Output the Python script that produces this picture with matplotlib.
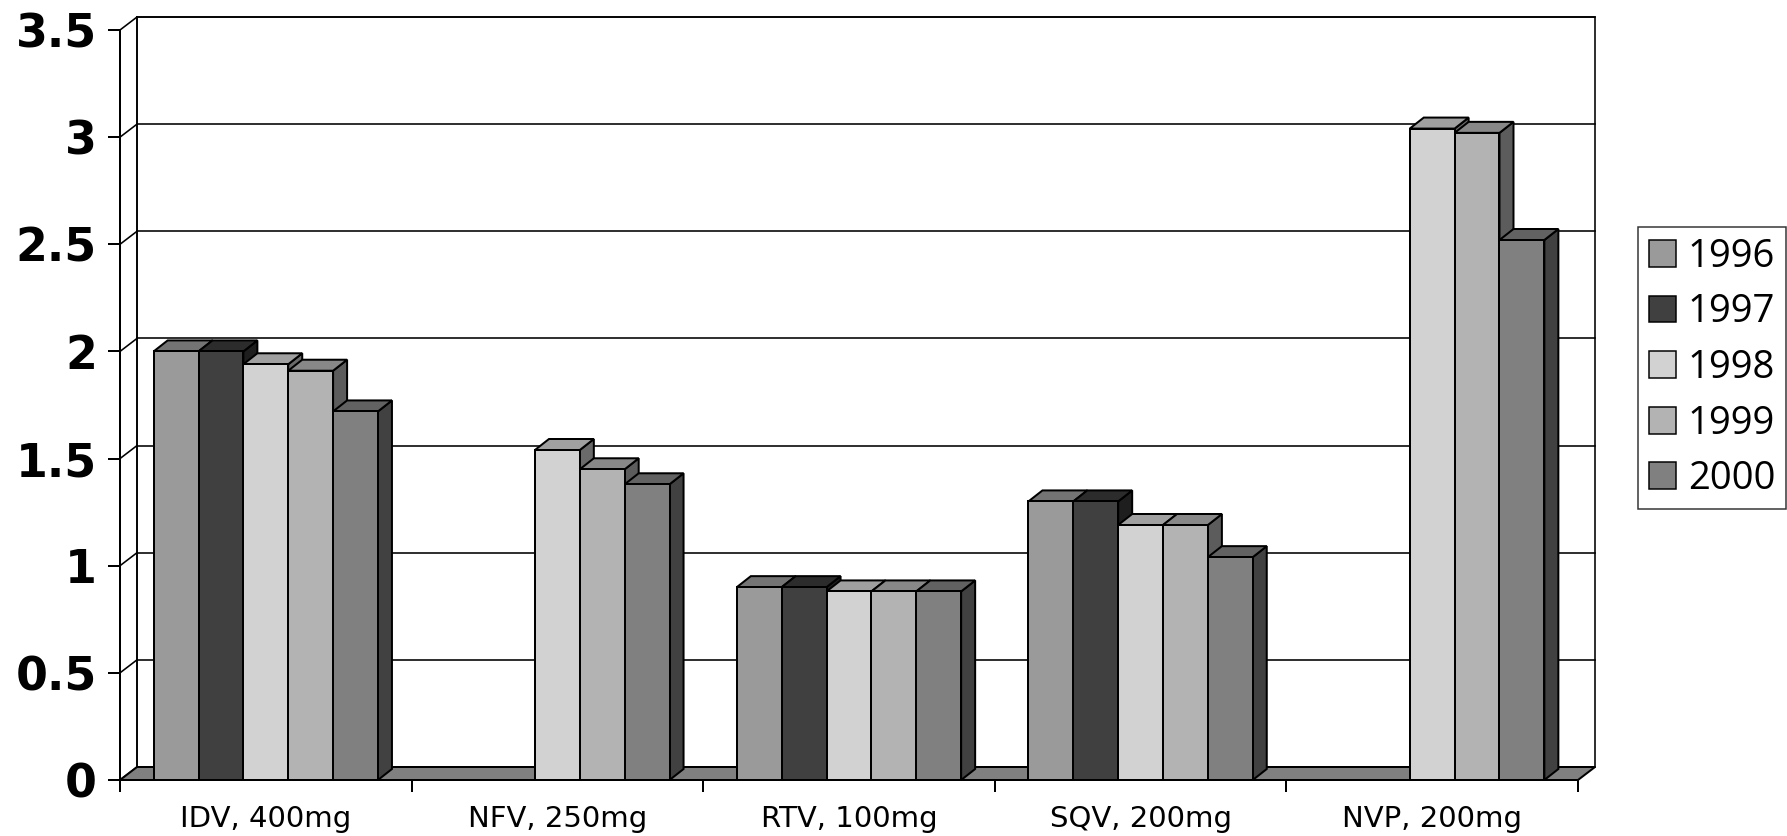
#!/usr/bin/env python3
"""3D-style Excel column chart: drug values by year (1996-2000)."""
import matplotlib
matplotlib.use("Agg")
import matplotlib.pyplot as plt
import numpy as np
from matplotlib.patches import Polygon, Patch

W, H, DPI = 1787, 836, 100

CATEGORIES = ["IDV, 400mg", "NFV, 250mg", "RTV, 100mg", "SQV, 200mg", "NVP, 200mg"]
YEARS = ["1996", "1997", "1998", "1999", "2000"]
VAL_1996 = [2.00, np.nan, 0.90, 1.30, np.nan]
VAL_1997 = [2.00, np.nan, 0.90, 1.30, np.nan]
VAL_1998 = [1.94, 1.54, 0.88, 1.19, 3.04]
VAL_1999 = [1.91, 1.45, 0.88, 1.19, 3.02]
VAL_2000 = [1.72, 1.38, 0.88, 1.04, 2.52]
YTICKS = [0, 0.5, 1, 1.5, 2, 2.5, 3, 3.5]
YTICK_LABELS = ["0", "0.5", "1", "1.5", "2", "2.5", "3", "3.5"]

SERIES = [VAL_1996, VAL_1997, VAL_1998, VAL_1999, VAL_2000]
FRONT = ["#9a9a9a", "#404040", "#d2d2d2", "#b3b3b3", "#808080"]
TOP = ["#747474", "#2c2c2c", "#a0a0a0", "#888888", "#626262"]
SIDE = ["#4e4e4e", "#1e1e1e", "#6a6a6a", "#5c5c5c", "#414141"]


def px(p):
    return p * 72.0 / DPI


fig = plt.figure(figsize=(W / DPI, H / DPI), dpi=DPI)
# front plane of the chart: x 120..1578 px, y(0)=780, y(3.5)=30 from top
ax = fig.add_axes([120 / W, 56 / H, 1458 / W, 750 / H])
ncat = len(CATEGORIES)
ax.set_xlim(0, ncat)
ax.set_ylim(0, 3.5)
ax.patch.set_visible(False)

sx = ncat / 1458.0
sy = 3.5 / 750.0
dX, dY = 17 * sx, 13 * sy      # wall / floor depth
bX, bY = 14 * sx, 11 * sy      # column depth

lw = px(2.0)
glw = px(1.6)
z = 1

# back wall
ax.add_patch(Polygon([(dX, dY), (ncat + dX, dY), (ncat + dX, 3.5 + dY), (dX, 3.5 + dY)],
                     closed=True, fc="white", ec="black", lw=glw, zorder=z, clip_on=False))
z += 1
# gridlines on the back wall and the left side wall
for v in YTICKS:
    ax.plot([dX, ncat + dX], [v + dY, v + dY], color="black", lw=glw, zorder=z, clip_on=False)
    ax.plot([0, dX], [v, v + dY], color="black", lw=glw, zorder=z, clip_on=False)
ax.plot([dX, dX], [dY, 3.5 + dY], color="black", lw=glw, zorder=z, clip_on=False)
z += 1
# floor
ax.add_patch(Polygon([(0, 0), (ncat, 0), (ncat + dX, dY), (dX, dY)],
                     closed=True, fc="#808080", ec="black", lw=lw, zorder=z, clip_on=False))
z += 1

bw = 1.0 / (len(SERIES) + 1.5)
for i in range(ncat):
    for j, vals in enumerate(SERIES):
        v = vals[i]
        if np.isnan(v):
            continue
        x0 = i + (0.75 + j) * bw
        side = [(x0 + bw, 0), (x0 + bw + bX, bY), (x0 + bw + bX, v + bY), (x0 + bw, v)]
        top = [(x0, v), (x0 + bw, v), (x0 + bw + bX, v + bY), (x0 + bX, v + bY)]
        front = [(x0, 0), (x0 + bw, 0), (x0 + bw, v), (x0, v)]
        ax.add_patch(Polygon(side, closed=True, fc=SIDE[j], ec="black", lw=lw, zorder=z, clip_on=False))
        ax.add_patch(Polygon(top, closed=True, fc=TOP[j], ec="black", lw=lw, zorder=z, clip_on=False))
        ax.add_patch(Polygon(front, closed=True, fc=FRONT[j], ec="black", lw=lw, zorder=z, clip_on=False))
        z += 1

for s in ("top", "right"):
    ax.spines[s].set_visible(False)
for s in ("left", "bottom"):
    ax.spines[s].set_linewidth(lw)
    ax.spines[s].set_zorder(z)

ax.set_yticks(YTICKS)
ax.set_yticklabels(YTICK_LABELS, fontsize=33, fontweight="bold", family="DejaVu Sans")
ax.tick_params(axis="y", length=px(12), width=lw, pad=px(11))
ax.set_xticks(np.arange(ncat + 1))
ax.set_xticklabels([""] * (ncat + 1))
ax.tick_params(axis="x", which="major", length=px(12), width=lw)
ax.set_xticks(np.arange(ncat) + 0.5, minor=True)
ax.set_xticklabels(CATEGORIES, minor=True, fontsize=21, family="DejaVu Sans")
ax.tick_params(axis="x", which="minor", length=0, pad=px(25))

handles = [Patch(facecolor=FRONT[j], edgecolor="black", lw=px(1.5)) for j in range(len(YEARS))]
leg = fig.legend(handles, YEARS, loc="center left", bbox_to_anchor=(1638 / W, 1 - 368 / H),
                 prop={"family": "Open Sans", "size": 27.5}, frameon=True, fancybox=False,
                 borderaxespad=0, handlelength=0.72, handleheight=0.7, handletextpad=0.3,
                 labelspacing=0.46, borderpad=0.28)
leg.get_frame().set_edgecolor("black")
leg.get_frame().set_linewidth(px(1.5))

fig.savefig("out.png", dpi=DPI)
